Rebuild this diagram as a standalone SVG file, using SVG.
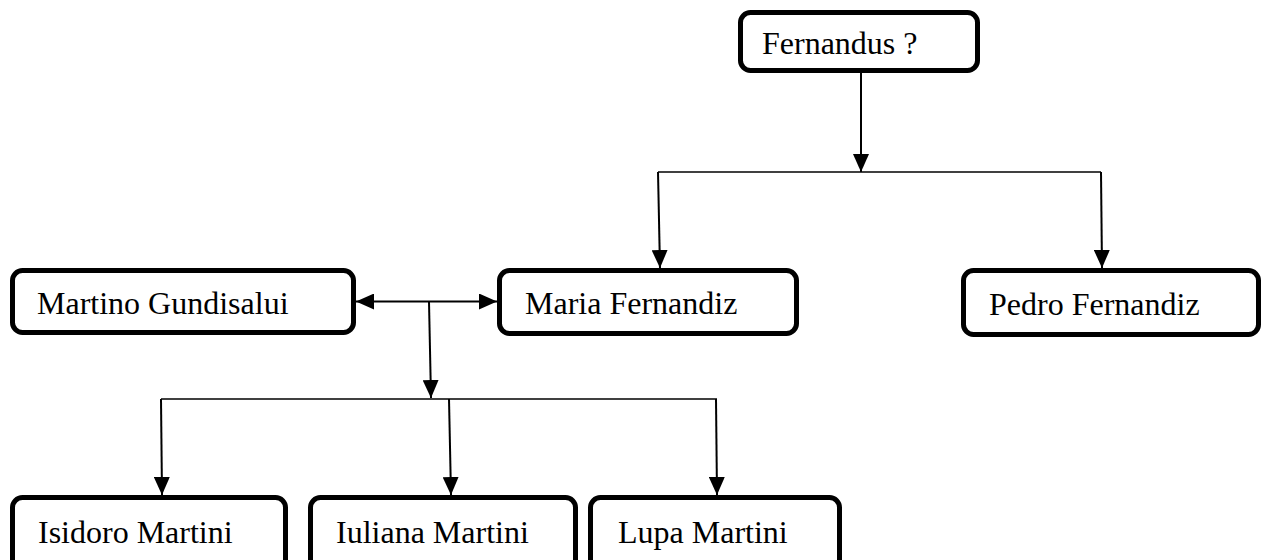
<svg xmlns="http://www.w3.org/2000/svg" width="1268" height="560" viewBox="0 0 1268 560">
<style>
.box{fill:#fff;stroke:#000;stroke-width:5}
.lbl{font-family:"Liberation Serif","Times New Roman",serif;font-size:32px;fill:#000}
.ln{fill:none;stroke:#000;stroke-width:2}
.bus{fill:none;stroke:#000;stroke-width:1.6}
</style>
<defs>
<marker id="ah" markerUnits="userSpaceOnUse" markerWidth="18" markerHeight="16" viewBox="0 0 18 16" refX="18" refY="8" orient="auto-start-reverse">
<path d="M0 0 L18 8 L0 16 Z" fill="#000"/>
</marker>
</defs>
<rect width="1268" height="560" fill="#fff"/>
<g id="connectors">
<path class="ln" d="M861 73 L861 172" marker-end="url(#ah)"/>
<path class="bus" d="M658 172 H1101"/>
<path class="ln" d="M658 172 L660 268" marker-end="url(#ah)"/>
<path class="ln" d="M1101 172 L1102 268" marker-end="url(#ah)"/>
<path class="ln" d="M356 301.5 H497" marker-start="url(#ah)" marker-end="url(#ah)"/>
<path class="ln" d="M429 301.5 L431 398" marker-end="url(#ah)"/>
<path class="bus" d="M161 399 H717"/>
<path class="ln" d="M161 399 L162 495" marker-end="url(#ah)"/>
<path class="ln" d="M449 399 L451 495" marker-end="url(#ah)"/>
<path class="ln" d="M716 399 L717 495" marker-end="url(#ah)"/>
</g>
<g id="fernandus">
<rect class="box" x="740.5" y="12.5" width="237" height="58" rx="10"/>
<text class="lbl" x="762" y="54">Fernandus ?</text>
</g>
<g id="martino">
<rect class="box" x="12.5" y="270.5" width="341" height="62" rx="10"/>
<text class="lbl" x="37" y="314">Martino Gundisalui</text>
</g>
<g id="maria">
<rect class="box" x="499.5" y="270.5" width="297" height="63" rx="10"/>
<text class="lbl" x="525" y="314">Maria Fernandiz</text>
</g>
<g id="pedro">
<rect class="box" x="963.5" y="270.5" width="295" height="64" rx="10"/>
<text class="lbl" x="989" y="315">Pedro Fernandiz</text>
</g>
<g id="isidoro">
<rect class="box" x="12.5" y="497.5" width="273" height="80" rx="10"/>
<text class="lbl" x="38" y="543">Isidoro Martini</text>
</g>
<g id="iuliana">
<rect class="box" x="310.5" y="497.5" width="265" height="80" rx="10"/>
<text class="lbl" x="336" y="543">Iuliana Martini</text>
</g>
<g id="lupa">
<rect class="box" x="590.5" y="497.5" width="249" height="80" rx="10"/>
<text class="lbl" x="618" y="543">Lupa Martini</text>
</g>
</svg>
